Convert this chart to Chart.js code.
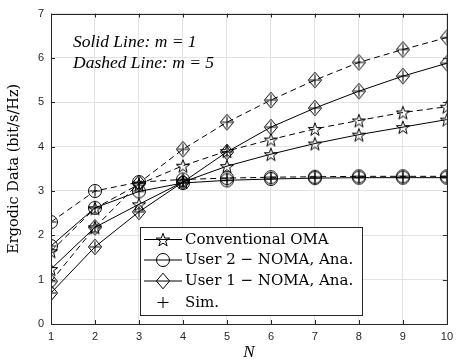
<!DOCTYPE html>
<html>
<head>
<meta charset="utf-8">
<script src="https://cdn.jsdelivr.net/npm/chart.js@4"></script>
<style>
  html, body { margin: 0; padding: 0; background: #fff; }
  #wrap { width: 459px; height: 363px; }
</style>
</head>
<body>
<div id="wrap"><canvas id="myChart" width="459" height="363"></canvas></div>
<script>
// number of antennas N
const nValues = [1, 2, 3, 4, 5, 6, 7, 8, 9, 10];

// ergodic data, m = 1 (solid) and m = 5 (dashed)
const omaM1 = [1.24, 2.18, 2.70, 3.20, 3.56, 3.83, 4.07, 4.27, 4.44, 4.61];
const omaM5 = [1.64, 2.61, 3.15, 3.57, 3.90, 4.16, 4.40, 4.59, 4.77, 4.90];
const user2M1 = [1.76, 2.62, 2.99, 3.18, 3.24, 3.27, 3.29, 3.30, 3.30, 3.30];
const user2M5 = [2.30, 3.00, 3.20, 3.26, 3.29, 3.31, 3.32, 3.33, 3.33, 3.33];
const user1M1 = [0.70, 1.74, 2.53, 3.20, 3.88, 4.44, 4.87, 5.25, 5.59, 5.88];
const user1M5 = [0.96, 2.18, 3.18, 3.94, 4.55, 5.05, 5.50, 5.90, 6.19, 6.46];

const yTicks = [0, 1, 2, 3, 4, 5, 6, 7];
const legendLabels = ["Conventional OMA", "User 2 \u2212 NOMA, Ana.", "User 1 \u2212 NOMA, Ana.", "Sim."];
const noteLines = ["Solid Line: m = 1", "Dashed Line: m = 5"];

const INK = "#000";
const serif = "'Liberation Serif', 'Times New Roman', serif";
const wideSerif = "'DejaVu Serif', serif";

// --- marker shapes -------------------------------------------------------
const shapes = {
  star(ctx, x, y) {
    const R = 7, r = 2.8;
    ctx.beginPath();
    for (let i = 0; i < 10; i++) {
      const a = -Math.PI / 2 + i * Math.PI / 5;
      const rad = i % 2 ? r : R;
      const px = x + rad * Math.cos(a), py = y + rad * Math.sin(a) + 0.8;
      i ? ctx.lineTo(px, py) : ctx.moveTo(px, py);
    }
    ctx.closePath();
    ctx.stroke();
  },
  circle(ctx, x, y) {
    ctx.beginPath();
    ctx.arc(x, y, 6.5, 0, Math.PI * 2);
    ctx.stroke();
  },
  diamond(ctx, x, y) {
    ctx.beginPath();
    ctx.moveTo(x, y - 7.8);
    ctx.lineTo(x + 6.6, y);
    ctx.lineTo(x, y + 7.8);
    ctx.lineTo(x - 6.6, y);
    ctx.closePath();
    ctx.stroke();
  },
  plus(ctx, x, y) {
    ctx.beginPath();
    ctx.moveTo(x - 5.5, y); ctx.lineTo(x + 5.5, y);
    ctx.moveTo(x, y - 5.5); ctx.lineTo(x, y + 5.5);
    ctx.stroke();
  }
};

function makeMarker(names) {
  const c = document.createElement("canvas");
  c.width = 20; c.height = 20;
  const ctx = c.getContext("2d");
  ctx.strokeStyle = INK;
  ctx.lineWidth = 1;
  names.forEach(n => shapes[n](ctx, 10, 10));
  return c;
}

const starMark = makeMarker(["star"]);
const circleMark = makeMarker(["circle", "plus"]);
const diamondMark = makeMarker(["diamond", "plus"]);

const toPoints = vals => vals.map((v, i) => ({ x: nValues[i], y: v }));

const series = (vals, mark, dashed) => ({
  data: toPoints(vals),
  borderColor: INK,
  borderWidth: 1,
  borderDash: dashed ? [6, 4] : [],
  pointStyle: mark,
  tension: 0,
  fill: false
});

// --- box, inward ticks, legend and note --------------------------------
const decorations = {
  id: "decorations",
  afterDatasetsDraw(chart) {
    const { ctx, chartArea: a, scales } = chart;
    ctx.save();
    ctx.strokeStyle = "#262626";
    ctx.lineWidth = 1;
    ctx.beginPath();
    nValues.forEach(v => {
      const x = Math.round(scales.x.getPixelForValue(v)) + 0.5;
      ctx.moveTo(x, a.bottom); ctx.lineTo(x, a.bottom - 4);
      ctx.moveTo(x, a.top); ctx.lineTo(x, a.top + 4);
    });
    yTicks.forEach(v => {
      const y = Math.round(scales.y.getPixelForValue(v)) + 0.5;
      ctx.moveTo(a.left, y); ctx.lineTo(a.left + 4, y);
      ctx.moveTo(a.right, y); ctx.lineTo(a.right - 4, y);
    });
    ctx.stroke();
    ctx.strokeRect(Math.round(a.left) + 0.5, Math.round(a.top) + 0.5,
      Math.round(a.right - a.left), Math.round(a.bottom - a.top));

    // note in the upper left corner
    ctx.fillStyle = INK;
    ctx.font = "italic 17.5px " + serif;
    ctx.textBaseline = "alphabetic";
    ctx.fillText(noteLines[0], 73, 47);
    ctx.fillText(noteLines[1], 73, 68);

    // legend
    const lx = 140.5, ly = 227.5, lw = 222, lh = 88;
    ctx.fillStyle = "#fff";
    ctx.fillRect(lx, ly, lw, lh);
    ctx.strokeStyle = "#262626";
    ctx.strokeRect(lx, ly, lw, lh);
    const rows = [239, 259.5, 280.5, 302];
    const marks = [["star"], ["circle"], ["diamond"], ["plus"]];
    ctx.strokeStyle = INK;
    rows.forEach((ry, i) => {
      if (i < 3) {
        ctx.beginPath();
        ctx.moveTo(144, ry + 0.5); ctx.lineTo(182, ry + 0.5);
        ctx.stroke();
      }
      marks[i].forEach(n => shapes[n](ctx, 163, ry + 0.5));
    });
    ctx.fillStyle = INK;
    ctx.font = "15px " + wideSerif;
    ctx.textBaseline = "middle";
    rows.forEach((ry, i) => ctx.fillText(legendLabels[i], 185, ry + 1));
    ctx.restore();
  }
};

const tickFont = { family: "'Liberation Sans', Arial, sans-serif", size: 11 };

new Chart(document.getElementById("myChart"), {
  type: "line",
  data: {
    datasets: [
      series(omaM1, starMark, false),
      series(omaM5, starMark, true),
      series(user2M1, circleMark, false),
      series(user2M5, circleMark, true),
      series(user1M1, diamondMark, false),
      series(user1M5, diamondMark, true)
    ]
  },
  options: {
    responsive: false,
    animation: false,
    layout: { padding: { top: 9, right: 8, left: 0, bottom: 0 } },
    plugins: { legend: { display: false }, tooltip: { enabled: false } },
    scales: {
      x: {
        type: "linear",
        min: 1,
        max: 10,
        afterFit: s => { s.height = 39; },
        afterBuildTicks: s => { s.ticks = nValues.map(v => ({ value: v })); },
        ticks: { color: "#262626", font: tickFont, padding: 6, maxRotation: 0 },
        grid: { color: "#e3e3e3", drawTicks: false },
        border: { display: false },
        title: {
          display: true,
          text: "N",
          color: INK,
          font: { family: serif, size: 17, style: "italic" },
          padding: { top: 0, bottom: 0 }
        }
      },
      y: {
        min: 0,
        max: 7,
        afterFit: s => { s.width = 51; },
        afterBuildTicks: s => { s.ticks = yTicks.map(v => ({ value: v })); },
        ticks: { color: "#262626", font: tickFont, padding: 7 },
        grid: { color: "#e3e3e3", drawTicks: false },
        border: { display: false },
        title: {
          display: true,
          text: "Ergodic Data (bit/s/Hz)",
          color: INK,
          font: { family: wideSerif, size: 14.5 },
          padding: { top: 6, bottom: 4 }
        }
      }
    }
  },
  plugins: [decorations]
});
</script>
</body>
</html>
